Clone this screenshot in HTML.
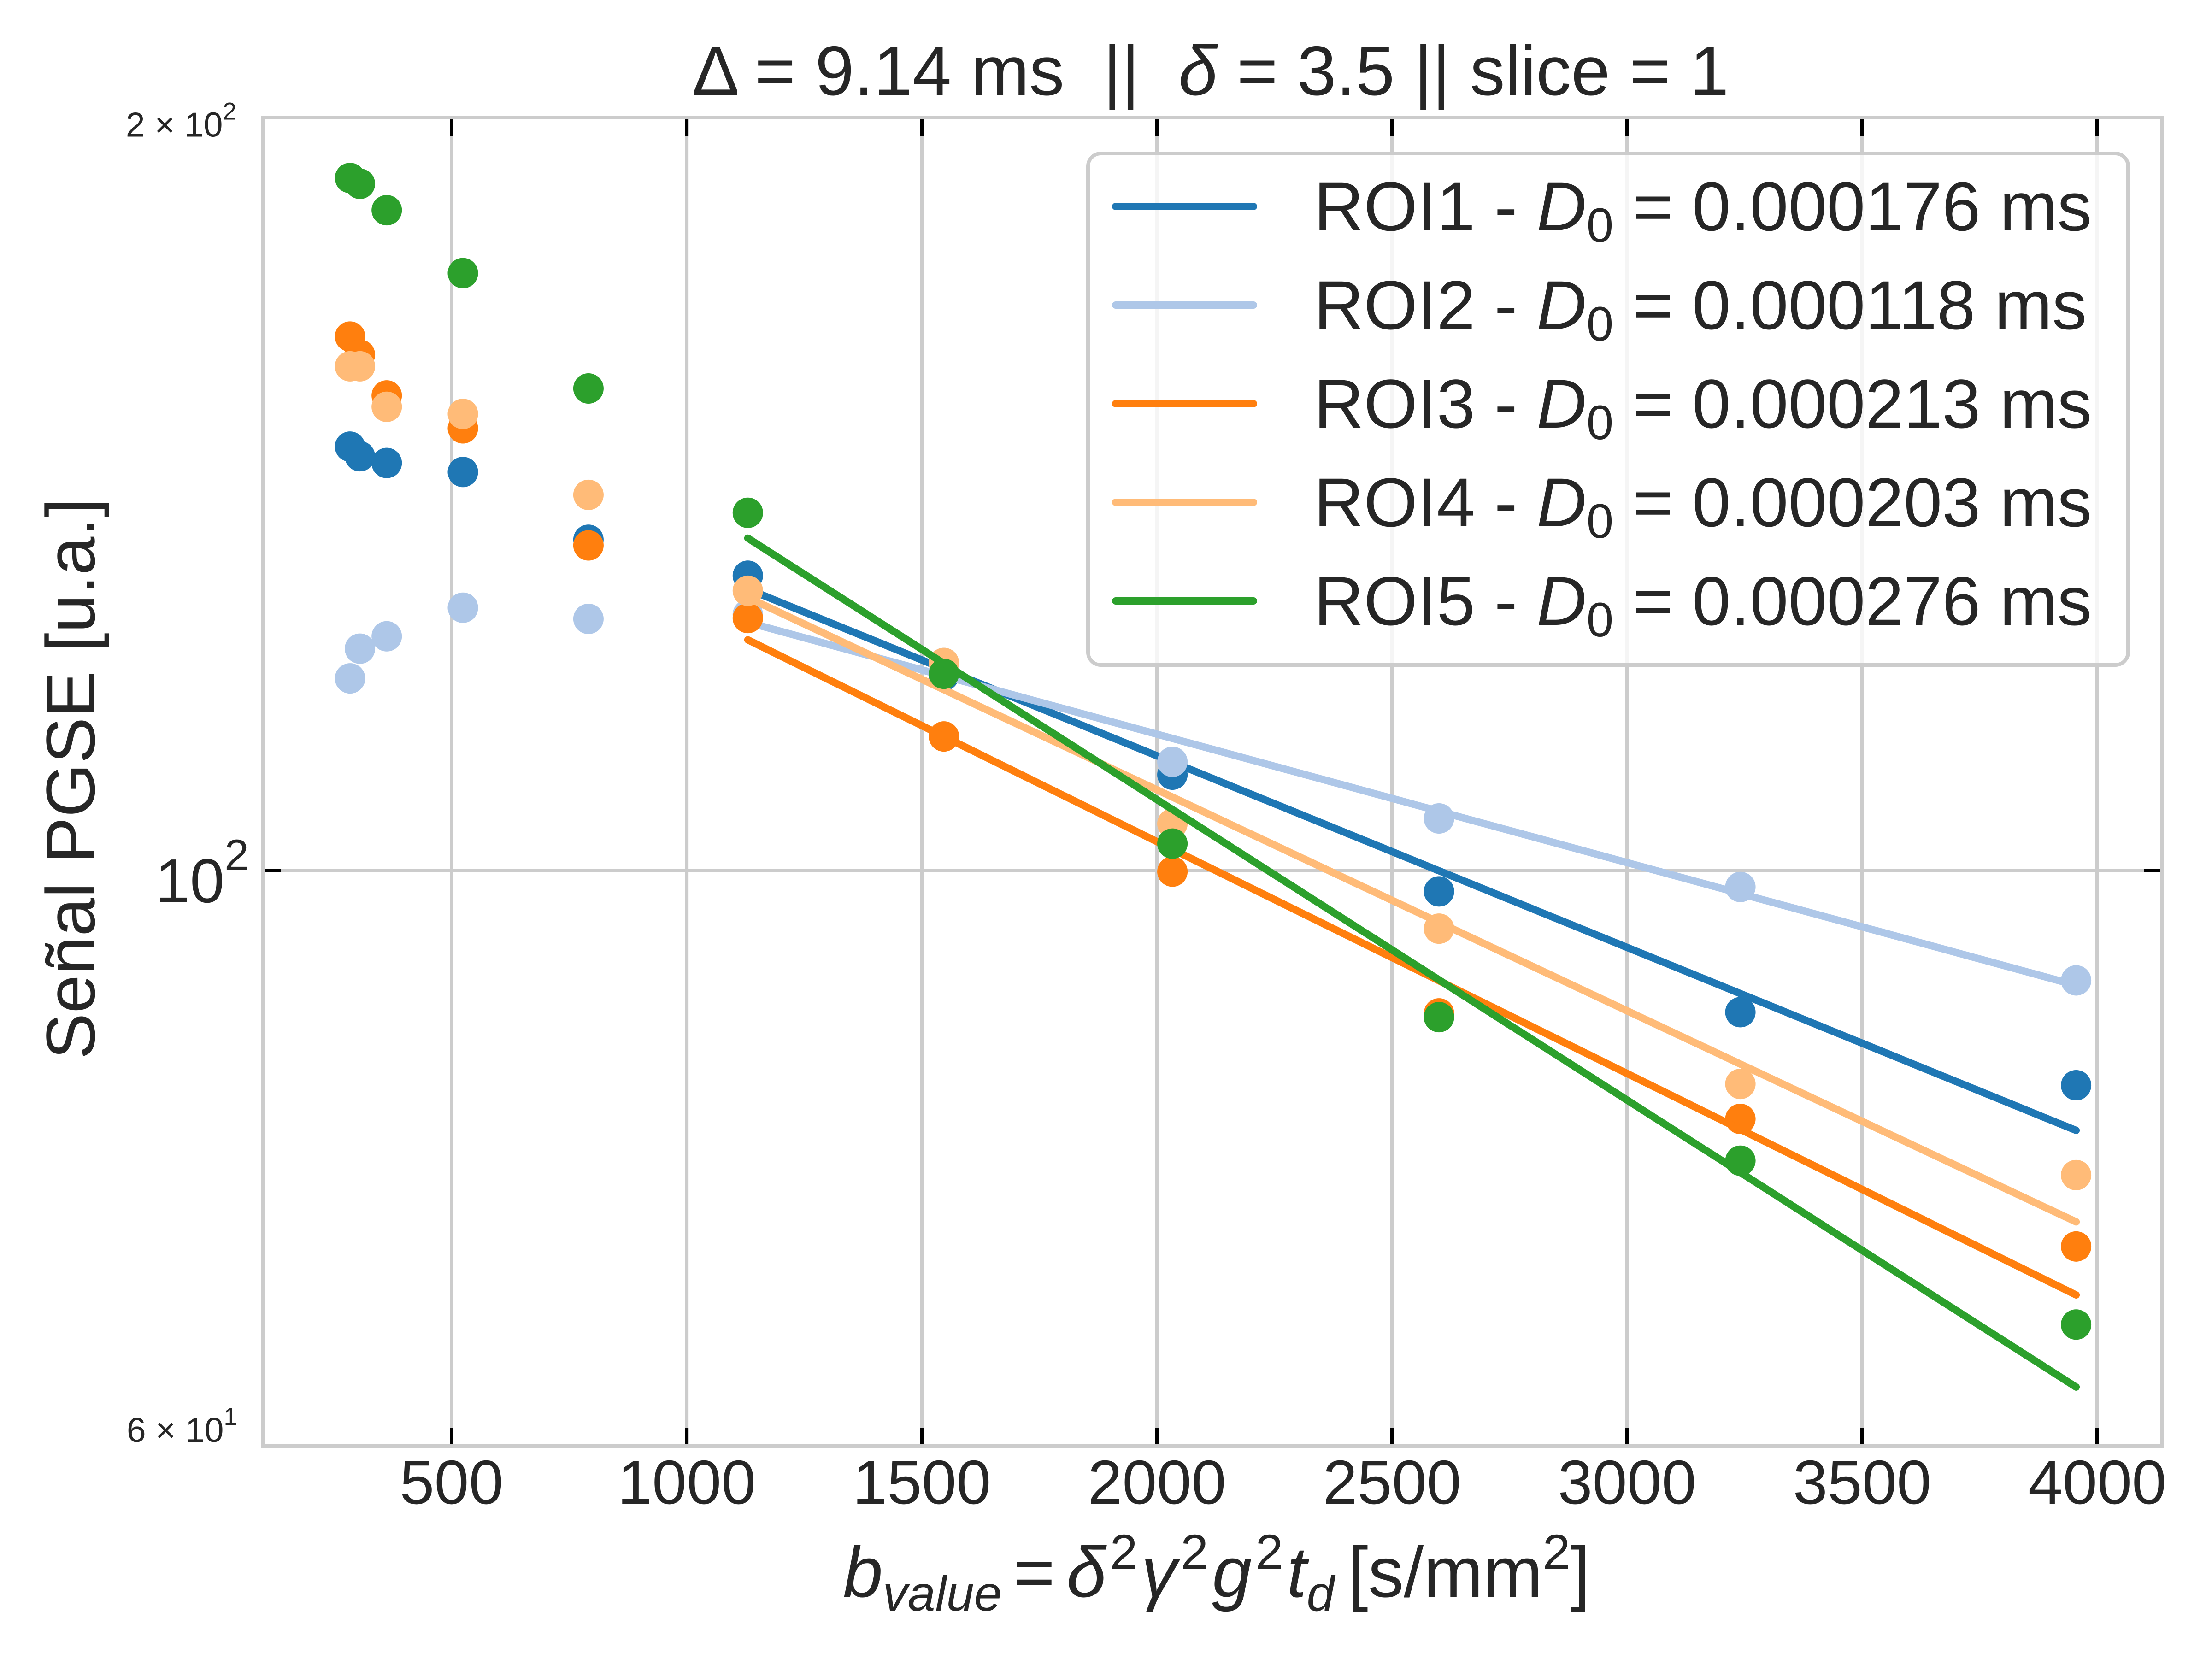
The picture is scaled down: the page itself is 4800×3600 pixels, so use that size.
<!DOCTYPE html>
<html><head><meta charset="utf-8"><style>
html,body{margin:0;padding:0;background:#fff;}
svg{display:block;font-family:"Liberation Sans","DejaVu Sans",sans-serif;}
</style></head><body>
<svg id="chart" width="4800" height="3600" viewBox="0 0 4800 3600" xmlns="http://www.w3.org/2000/svg">
<rect x="0" y="0" width="4800" height="3600" fill="#fff"/>
<text x="2627" y="206" font-size="152" text-anchor="middle" fill="#262626" xml:space="preserve" style="white-space:pre">Δ = 9.14 ms  ||  <tspan font-style="italic">δ</tspan> = 3.5 || slice = 1</text>
<g id="grid"></g>
<g id="plot"></g>
<rect x="570" y="255" width="4122" height="2883" fill="none" stroke="#cccccc" stroke-width="8"/>
<g id="ticks"></g>
<text transform="translate(205,1690) rotate(-90)" font-size="150" text-anchor="middle" fill="#262626">Señal PGSE [u.a.]</text>
<text x="2640" y="3465" font-size="155" text-anchor="middle" fill="#262626"><tspan font-style="italic">b</tspan><tspan font-style="italic" font-size="108" dy="30">value</tspan><tspan dy="-30" dx="25">=</tspan><tspan font-style="italic" dx="25">δ</tspan><tspan font-size="108" dy="-60" dx="8">2</tspan><tspan font-style="italic" dy="60" dx="8">γ</tspan><tspan font-size="108" dy="-60" dx="8">2</tspan><tspan font-style="italic" dy="60" dx="8">g</tspan><tspan font-size="108" dy="-60" dx="8">2</tspan><tspan font-style="italic" dy="60" dx="8">t</tspan><tspan font-style="italic" font-size="108" dy="30">d</tspan><tspan dy="-30" dx="30">[s/mm</tspan><tspan font-size="108" dy="-60">2</tspan><tspan dy="60">]</tspan></text>
<g id="legend"></g>
</svg>
<script>
const bValues = [284, 305, 362, 524, 791, 1130, 1547, 2033, 2600, 3241, 3955];
const roi1 = [147.6, 146.3, 145.4, 144.2, 135.5, 131.1, 119.6, 109.2, 98.1, 87.8, 82.1];
const roi2 = [119.3, 122.6, 124.0, 127.3, 126.0, 126.5, 121.0, 110.5, 104.9, 98.5, 90.4];
const roi3 = [163.3, 160.6, 154.7, 150.1, 134.8, 126.1, 113.1, 99.9, 87.7, 79.6, 70.8];
const roi4 = [158.9, 158.9, 153.1, 152.1, 141.2, 129.3, 121.0, 104.4, 94.8, 82.2, 75.6];
const roi5 = [188.9, 187.9, 183.4, 173.1, 155.7, 138.9, 119.8, 102.5, 87.4, 76.6, 65.9];
const fitStart = [129.5, 125.6, 123.6, 128.5, 135.7];
const fitD0 = [0.000176, 0.000118, 0.000213, 0.000203, 0.000276];
const fitRange = [1130, 3955];
const roiNames = ["ROI1", "ROI2", "ROI3", "ROI4", "ROI5"];
const xTicks = [500, 1000, 1500, 2000, 2500, 3000, 3500, 4000];
const colors = ["#1f77b4", "#aec7e8", "#ff7f0e", "#ffbb78", "#2ca02c"];
const series = [roi1, roi2, roi3, roi4, roi5];

const NS = "http://www.w3.org/2000/svg";
function X(b){ return 980 + (b - 500) * (4551 - 980) / 3500; }
function Y(v){ return 1889 - 5440 * Math.log10(v / 100); }
function mk(tag, attrs, parent){ const e = document.createElementNS(NS, tag); for (const k in attrs) e.setAttribute(k, attrs[k]); parent.appendChild(e); return e; }

const grid = document.getElementById('grid');
const ticks = document.getElementById('ticks');
const plot = document.getElementById('plot');
const legend = document.getElementById('legend');

xTicks.forEach(t => {
  const gl = mk('line', {x1: X(t), x2: X(t), y1: 255, y2: 3138, stroke: '#cccccc', 'stroke-width': 8}, grid);
  
  
  const tb = mk('line', {x1: X(t), x2: X(t), y1: 3134, y2: 3098, stroke: '#000', 'stroke-width': 8}, ticks);
  
  
  const tt = mk('line', {x1: X(t), x2: X(t), y1: 259, y2: 295, stroke: '#000', 'stroke-width': 8}, ticks);
  
  
  const lb = mk('text', {x: X(t), y: 3263, 'font-size': 135, 'text-anchor': 'middle', fill: '#262626'}, ticks);
  lb.textContent = String(t);
  
  
});
const yg = mk('line', {x1: 570, x2: 4692, y1: Y(100), y2: Y(100), stroke: '#cccccc', 'stroke-width': 8}, grid);


const ytl = mk('line', {x1: 574, x2: 610, y1: Y(100), y2: Y(100), stroke: '#000', 'stroke-width': 8}, ticks);


const ytr = mk('line', {x1: 4688, x2: 4652, y1: Y(100), y2: Y(100), stroke: '#000', 'stroke-width': 8}, ticks);



const yl = mk('text', {x: 540, y: Y(100) + 69, 'font-size': 135, 'text-anchor': 'end', fill: '#262626'}, ticks);
yl.innerHTML = '10<tspan font-size="95" dy="-70">2</tspan>';


const y2 = mk('text', {x: 513, y: Y(200) + 45, 'font-size': 75, 'text-anchor': 'end', fill: '#262626'}, ticks);
y2.innerHTML = '2 × 10<tspan font-size="53" dy="-37">2</tspan>';


const y6 = mk('text', {x: 515, y: Y(60) + 33, 'font-size': 75, 'text-anchor': 'end', fill: '#262626'}, ticks);
y6.innerHTML = '6 × 10<tspan font-size="53" dy="-37">1</tspan>';



series.forEach((vals, i) => {
  vals.forEach((v, j) => {
    const c = mk('circle', {cx: X(bValues[j]), cy: Y(v), r: 33, fill: colors[i]}, plot);
    
    
  });
  const pts = [];
  for (let k = 0; k <= 40; k++) {
    const b = fitRange[0] + (fitRange[1] - fitRange[0]) * k / 40;
    const v = fitStart[i] * Math.exp(-fitD0[i] * (b - fitRange[0]));
    pts.push(X(b).toFixed(1) + ',' + Y(v).toFixed(1));
  }
  const pl = mk('polyline', {points: pts.join(' '), fill: 'none', stroke: colors[i], 'stroke-width': 16, 'stroke-linecap': 'round'}, plot);
  
  
});

const box = mk('rect', {x: 2361, y: 333, width: 2257, height: 1110, rx: 28, fill: '#ffffff', 'fill-opacity': 0.8, stroke: '#cccccc', 'stroke-width': 8}, legend);


roiNames.forEach((n, i) => {
  const y = 448 + i * 214;
  const ln = mk('line', {x1: 2421, x2: 2720, y1: y, y2: y, stroke: colors[i], 'stroke-width': 16, 'stroke-linecap': 'round'}, legend);
  
  
  const t = mk('text', {x: 2851, y: y + 52, 'font-size': 150, fill: '#262626'}, legend);
  t.innerHTML = n + ' - <tspan font-style="italic">D</tspan><tspan font-size="105" dy="25">0</tspan><tspan dy="-25"> = ' + fitD0[i].toFixed(6) + ' ms</tspan>';
  
  
});
</script>
</body></html>
